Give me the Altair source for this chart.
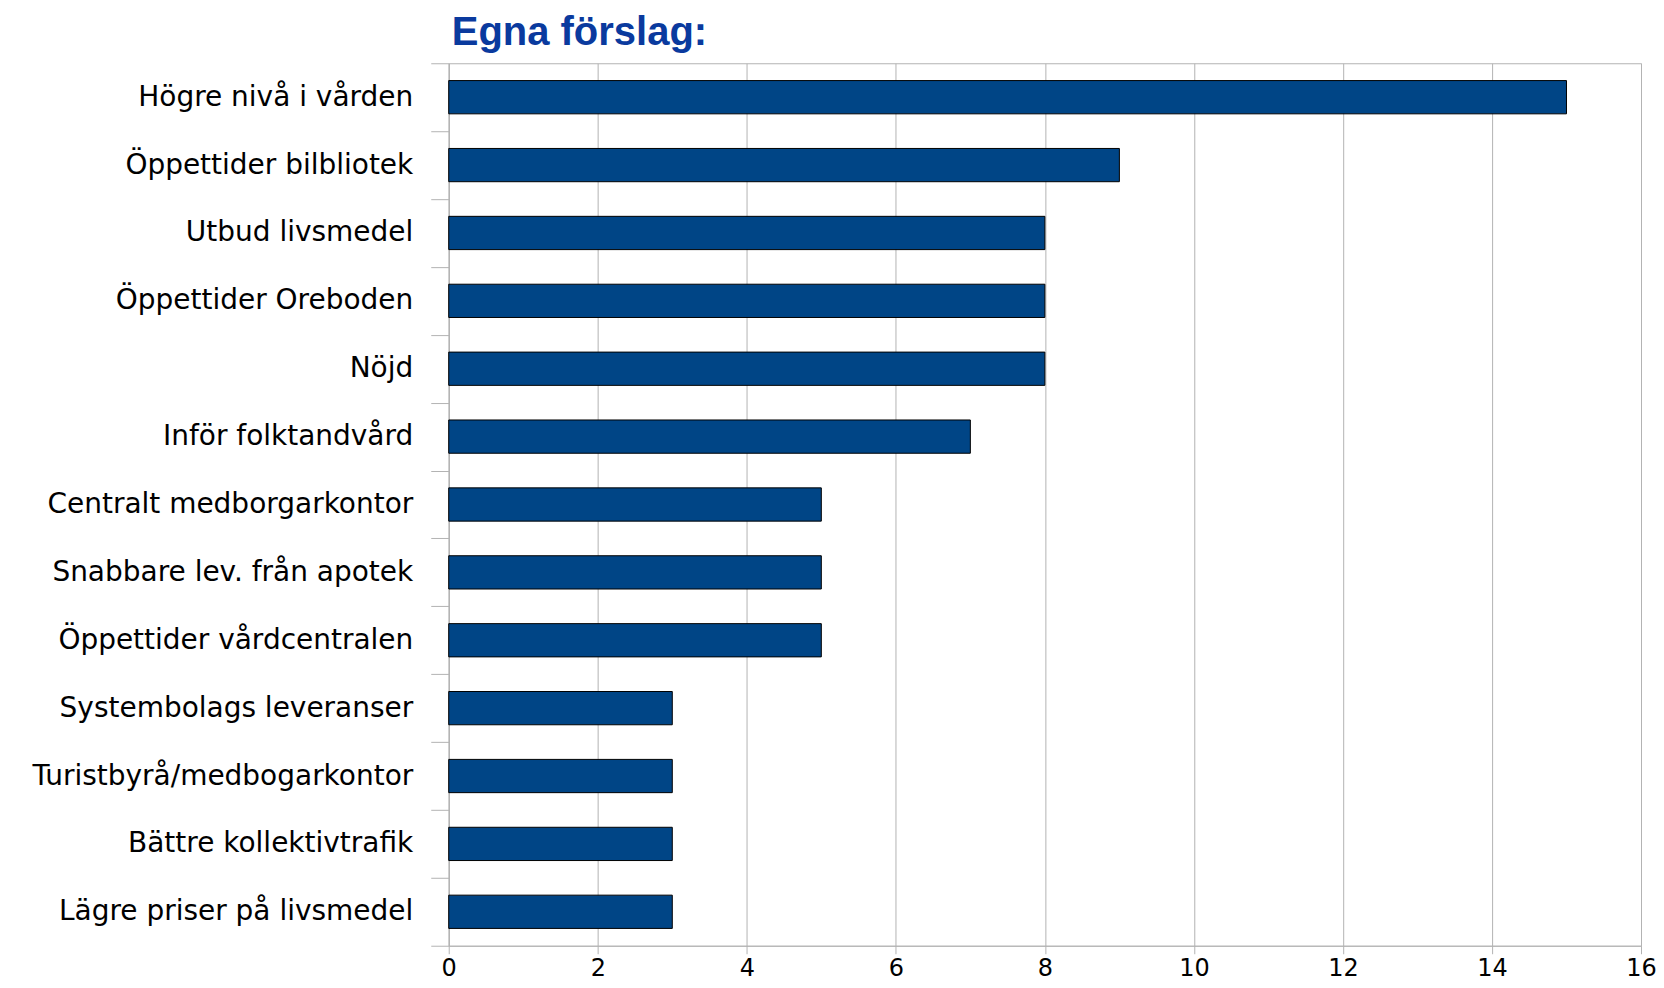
import altair as alt
import pandas as pd

categories = [
    "Högre nivå i vården",
    "Öppettider bilbliotek",
    "Utbud livsmedel",
    "Öppettider Oreboden",
    "Nöjd",
    "Inför folktandvård",
    "Centralt medborgarkontor",
    "Snabbare lev. från apotek",
    "Öppettider vårdcentralen",
    "Systembolags leveranser",
    "Turistbyrå/medbogarkontor",
    "Bättre kollektivtrafik",
    "Lägre priser på livsmedel",
]
values = [15, 9, 8, 8, 8, 7, 5, 5, 5, 3, 3, 3, 3]
x_ticks = [0, 2, 4, 6, 8, 10, 12, 14, 16]

df = pd.DataFrame({"forslag": categories, "antal": values})

GRID = "#b3b3b3"

chart = (
    alt.Chart(df)
    .mark_bar(
        color="#004586",
        stroke="black",
        strokeWidth=1,
        height=alt.RelativeBandSize(band=0.49),
    )
    .encode(
        x=alt.X(
            "antal:Q",
            scale=alt.Scale(domain=[0, 16], nice=False),
            axis=alt.Axis(
                title=None,
                values=x_ticks,
                grid=True,
                gridColor=GRID,
                tickColor=GRID,
                tickSize=8,
                domainColor=GRID,
                labelFont="DejaVu Sans",
                labelFontSize=24,
                labelColor="black",
                labelPadding=3,
                labelFlush=False,
            ),
        ),
        y=alt.Y(
            "forslag:N",
            sort=categories,
            scale=alt.Scale(paddingInner=0, paddingOuter=0),
            axis=alt.Axis(
                title=None,
                tickBand="extent",
                tickSize=18,
                tickColor=GRID,
                domainColor=GRID,
                grid=False,
                labelFont="DejaVu Sans",
                labelFontSize=28,
                labelColor="black",
                labelPadding=18,
                labelLimit=0,
            ),
        ),
    )
    .properties(
        width=1193,
        height=883,
        autosize=alt.AutoSizeParams(type="none"),
        padding={"left": 441, "top": 55, "right": 15, "bottom": 37},
        title=alt.TitleParams(
            "Egna förslag:",
            anchor="start",
            frame="group",
            font="Liberation Sans",
            fontSize=40,
            fontWeight="bold",
            color="#0a3a9e",
            offset=12,
            dx=3,
            dy=16,
        ),
    )
    .configure_view(stroke=GRID, strokeWidth=1)
)

chart.save("out.html", embed_options={"renderer": "svg", "actions": False})
